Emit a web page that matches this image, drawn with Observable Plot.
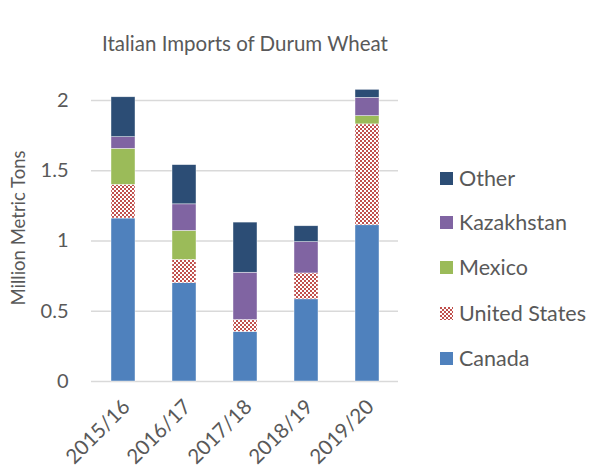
<!DOCTYPE html>
<html>
<head>
<meta charset="utf-8">
<script src="https://cdn.jsdelivr.net/npm/d3@7"></script>
<script src="https://cdn.jsdelivr.net/npm/@observablehq/plot@0.6"></script>
<style>
  html, body { margin: 0; padding: 0; background: #fff; }
  #wrap { position: relative; width: 591px; height: 471px; font-family: Lato, "Open Sans", sans-serif; color: #595959; }
  #title { position: absolute; left: 0; width: 490px; top: 31px; text-align: center; font-size: 20.5px; }
  #legend { position: absolute; left: 440px; top: 0; }
  .li { position: absolute; left: 0; white-space: nowrap; font-size: 21.5px; line-height: 24px; height: 24px; }
  .li svg { position: absolute; left: 0; top: 5.5px; }
  .li span { position: absolute; left: 19px; top: 0; }
</style>
</head>
<body>
<div id="wrap">
  <div id="title">Italian Imports of Durum Wheat</div>
  <div id="chart"></div>
  <div id="legend"></div>
</div>
<script>
const years = ["2015/16", "2016/17", "2017/18", "2018/19", "2019/20"];
const countries = ["Canada", "United States", "Mexico", "Kazakhstan", "Other"];
const canada      = [1.16, 0.70, 0.353, 0.585, 1.112];
const unitedStates= [0.24, 0.166, 0.085, 0.184, 0.718];
const mexico      = [0.256, 0.206, 0, 0, 0.059];
const kazakhstan  = [0.083, 0.189, 0.336, 0.223, 0.130];
const other       = [0.284, 0.279, 0.357, 0.113, 0.057];
const yTicks = [0, 0.5, 1, 1.5, 2];
const yTickLabels = ["0", "0.5", "1", "1.5", "2"];
const colors = ["#4F81BD", "url(#usPat)", "#9BBB59", "#8064A2", "#2C4D75"];

const seriesValues = [canada, unitedStates, mexico, kazakhstan, other];
const data = [];
countries.forEach((c, i) => {
  years.forEach((y, j) => data.push({year: y, country: c, value: seriesValues[i][j]}));
});

const plot = Plot.plot({
  width: 591,
  height: 471,
  marginLeft: 91,
  marginRight: 193,
  marginTop: 100,
  marginBottom: 90,
  style: {fontFamily: "Lato, 'Open Sans', sans-serif", color: "#595959", background: "white"},
  x: {domain: years, paddingInner: 0.61, paddingOuter: 0.305, label: null},
  y: {domain: [0, 2], label: null},
  color: {domain: countries, range: colors},
  marks: [
    Plot.gridY(yTicks, {stroke: "#D9D9D9", strokeOpacity: 1, strokeWidth: 1.3}),
    Plot.axisY(yTicks, {tickSize: 0, tickPadding: 23, fontSize: 20, tickFormat: (d, i) => yTickLabels[i], label: null}),
    Plot.text(["Million Metric Tons"], {frameAnchor: "left", textAnchor: "middle", dx: -72, dy: -13, rotate: -90, fontSize: 18.5, fill: "#595959"}),
    Plot.axisX({tickSize: 0, tickRotate: -45, tickPadding: 22, dx: 3, fontSize: 20.5, label: null}),
    Plot.barY(data, {x: "year", y: "value", fill: "country", stroke: "white", strokeWidth: 0.6, strokeOpacity: 0.7}),
  ]
});

// add the checker pattern used by United States
const svgNS = "http://www.w3.org/2000/svg";
function addPattern(svg, id) {
  const defs = document.createElementNS(svgNS, "defs");
  defs.innerHTML = `<pattern id="${id}" width="4" height="4" patternUnits="userSpaceOnUse">
    <rect width="4" height="4" fill="#fff"/>
    <rect x="0" y="0" width="2" height="2" fill="#C0504D"/>
    <rect x="2" y="2" width="2" height="2" fill="#C0504D"/>
  </pattern>`;
  svg.insertBefore(defs, svg.firstChild);
}
addPattern(plot, "usPat");
document.getElementById("chart").appendChild(plot);

// legend (top to bottom: reverse stacking order)
const legend = document.getElementById("legend");
const rowsCenterY = [178, 222, 267, 313, 358];
countries.slice().reverse().forEach((c, k) => {
  const idx = countries.indexOf(c);
  const row = document.createElement("div");
  row.className = "li";
  row.style.top = (rowsCenterY[k] - 12) + "px";
  const fill = idx === 1 ? "url(#usPatL)" : colors[idx];
  row.innerHTML = `<svg width="13" height="13">${idx === 1 ? `<defs><pattern id="usPatL" width="4" height="4" patternUnits="userSpaceOnUse"><rect width="4" height="4" fill="#fff"/><rect width="2" height="2" fill="#C0504D"/><rect x="2" y="2" width="2" height="2" fill="#C0504D"/></pattern></defs>` : ""}<rect width="13" height="13" fill="${fill}"/></svg><span>${c}</span>`;
  legend.appendChild(row);
});
</script>
</body>
</html>
